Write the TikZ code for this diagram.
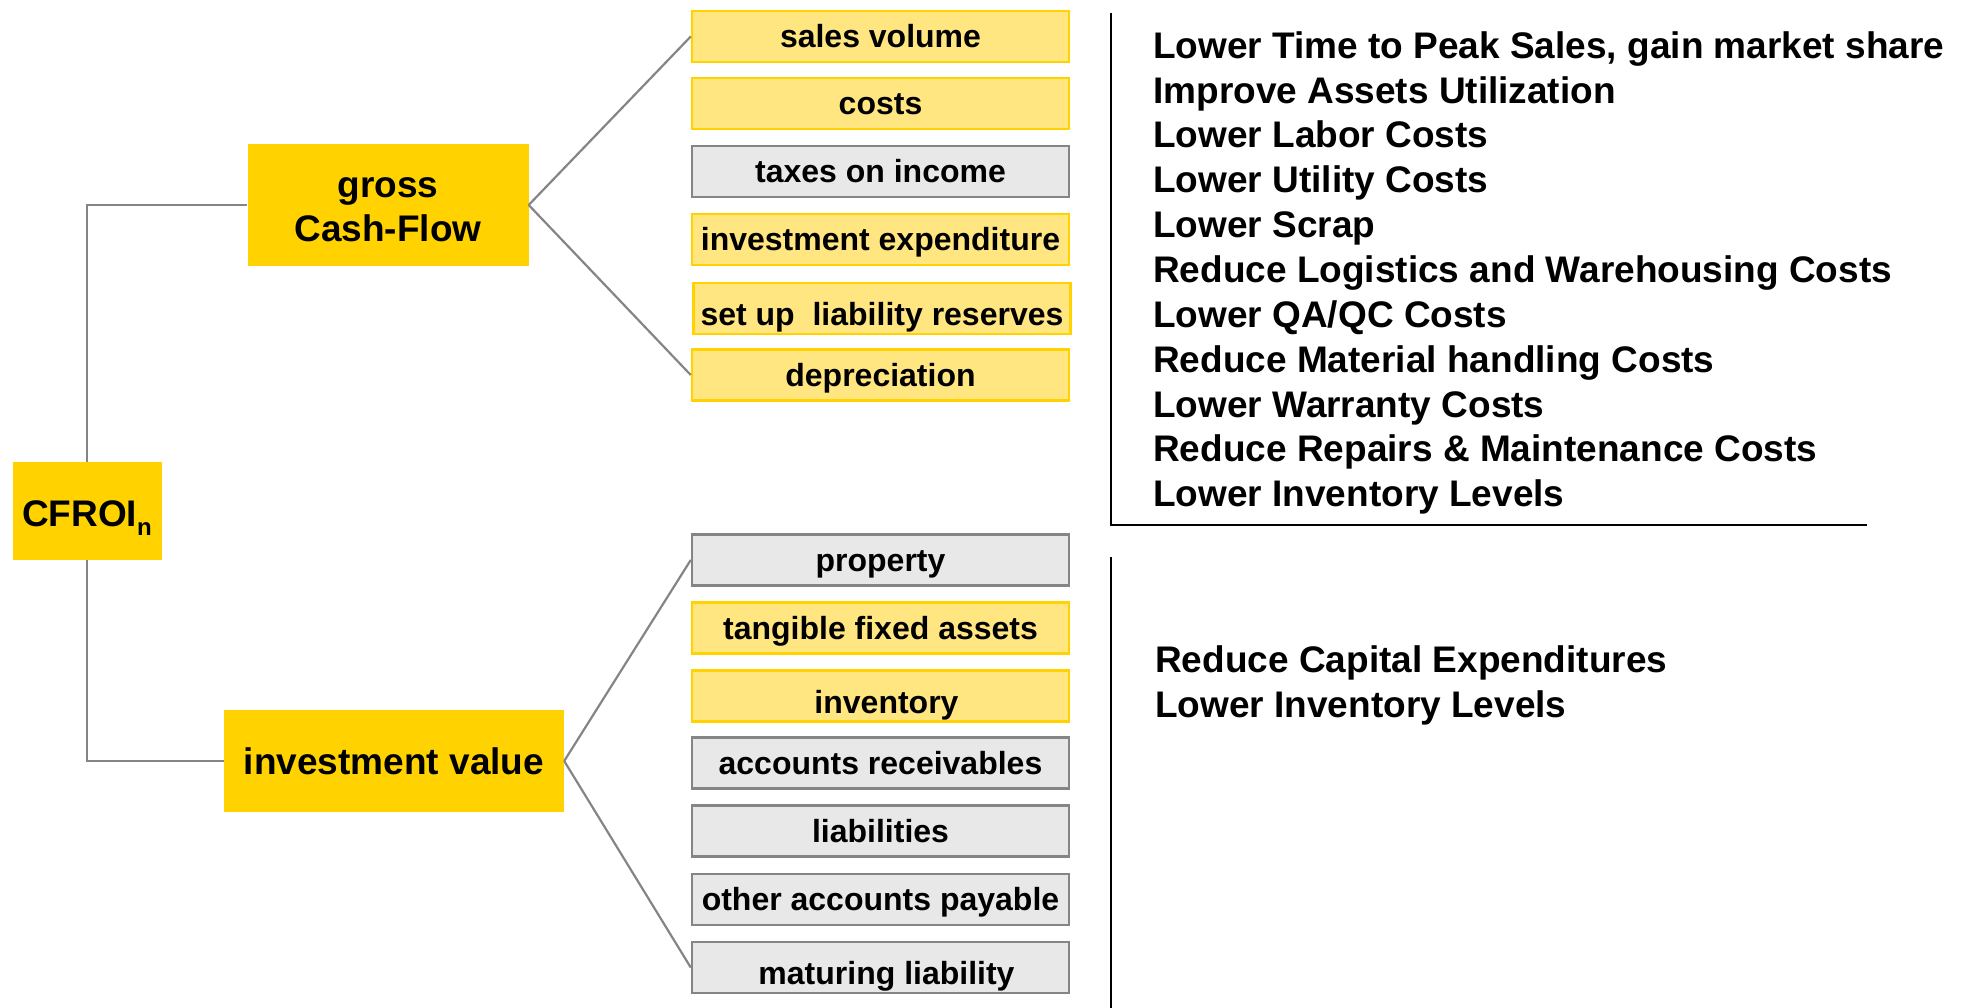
\documentclass[tikz,border=0pt]{standalone}
\usepackage{fontspec}
\setmainfont{Liberation Sans}
\definecolor{gold}{HTML}{FFD200}
\definecolor{lightyel}{HTML}{FFE680}
\definecolor{boxgray}{HTML}{E8E8E8}
\definecolor{midgray}{HTML}{858585}
\tikzset{
  leaf/.style={inner sep=0pt, minimum width=377pt, minimum height=51pt, line width=2.5pt,
    text height=24pt, text depth=2pt, font=\bfseries\fontsize{32}{36}\selectfont},
  lowtext/.style={text height=36pt, text depth=2pt},
  yleaf/.style={leaf, fill=lightyel, draw=gold},
  gleaf/.style={leaf, fill=boxgray, draw=midgray},
  mainbox/.style={fill=gold, inner sep=0pt, align=center, font=\bfseries\fontsize{37}{44}\selectfont},
  conn/.style={draw=midgray, line width=2.2pt},
  rulel/.style={draw=black, line width=2.5pt},
  item/.style={anchor=base west, inner sep=0pt, font=\bfseries\fontsize{37}{44}\selectfont}
}
\begin{document}
\begin{tikzpicture}[x=1pt,y=-1pt]
\useasboundingbox (0,0) rectangle (1970,1008);
% main boxes
\node[mainbox, minimum width=149pt, minimum height=98pt] (cfroi) at (87,511)
  {\rule{0pt}{39.5pt}CFROI\raisebox{-9pt}{\fontsize{24}{24}\selectfont n}};
\node[mainbox, minimum width=281pt, minimum height=122pt] (gross) at (388,205)
  {\rule{0pt}{30pt}gross\\Cash-Flow};
\node[mainbox, minimum width=340pt, minimum height=102pt] (invest) at (394,761)
  {investment value};
% top leaves
\node[yleaf] (sales) at (880.5,36.5) {sales volume};
\node[yleaf] (costs) at (880.5,103.5) {costs};
\node[gleaf] (taxes) at (880.5,171.5) {taxes on income};
\node[yleaf] (invexp) at (880.5,239.5) {investment expenditure};
\node[yleaf, lowtext] (reserves) at (882,308.5) {set up\ \ liability reserves};
\node[yleaf] (depr) at (880.5,375) {depreciation};
% bottom leaves
\node[gleaf] (prop) at (880.5,560) {property};
\node[yleaf] (tang) at (880.5,628) {tangible fixed assets};
\node[yleaf, lowtext] (inv) at (880.5,696) {\hspace*{12pt}inventory};
\node[gleaf] (recv) at (880.5,763) {accounts receivables};
\node[gleaf] (liab) at (880.5,831) {liabilities};
\node[gleaf] (other) at (880.5,899.5) {other accounts payable};
\node[gleaf, lowtext] (mat) at (880.5,967.5) {\hspace*{12pt}maturing liability};
% connectors
\draw[conn] (cfroi.north) |- (gross.west);
\draw[conn] (cfroi.south) |- (invest.west);
\draw[conn] (gross.east) -- (sales.west);
\draw[conn] (gross.east) -- (depr.west);
\draw[conn] (invest.east) -- (prop.west);
\draw[conn] (invest.east) -- (mat.west);
% rules
\coordinate (r1) at (1111,12.6);
\coordinate (r2) at (1111,525);
\coordinate (r3) at (1867,525);
\coordinate (r4) at (1111,557);
\coordinate (r5) at (1111,1008);
\draw[rulel] (r1) -- (r2) -- (r3);
\draw[rulel] (r4) -- (r5);
% lists
\node[item] (t1) at (1153,58.3) {Lower Time to Peak Sales, gain market share};
\node[item] (t2) at (1153,103.15) {Improve Assets Utilization};
\node[item] (t3) at (1153,148.0) {Lower Labor Costs};
\node[item] (t4) at (1153,192.85) {Lower Utility Costs};
\node[item] (t5) at (1153,237.7) {Lower Scrap};
\node[item] (t6) at (1153,282.55) {Reduce Logistics and Warehousing Costs};
\node[item] (t7) at (1153,327.4) {Lower QA/QC Costs};
\node[item] (t8) at (1153,372.25) {Reduce Material handling Costs};
\node[item] (t9) at (1153,417.1) {Lower Warranty Costs};
\node[item] (t10) at (1153,461.95) {Reduce Repairs \& Maintenance Costs};
\node[item] (t11) at (1153,506.8) {Lower Inventory Levels};
\node[item] (b1) at (1155,672) {Reduce Capital Expenditures};
\node[item] (b2) at (1155,717) {Lower Inventory Levels};
\end{tikzpicture}
\end{document}
